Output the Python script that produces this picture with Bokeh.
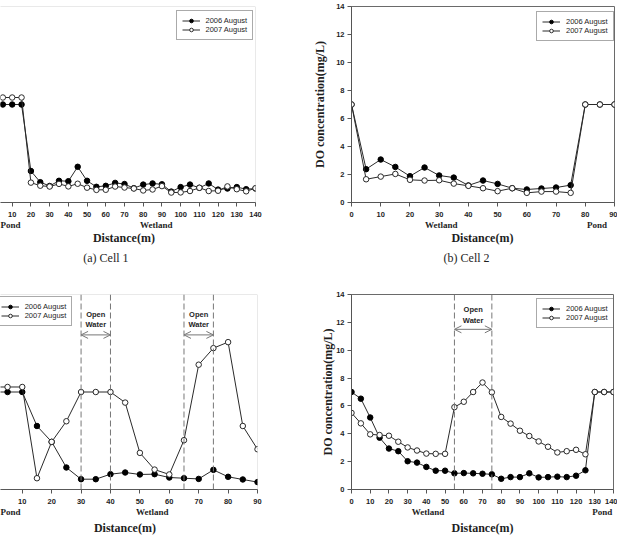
from bokeh.core.properties import value
from bokeh.embed import file_html
from bokeh.layouts import column, row
from bokeh.models import (Arrow, BoxAnnotation, FixedTicker, Legend, LegendItem,
                          LinearAxis, OpenHead, Range1d, Span)
from bokeh.plotting import figure
from bokeh.resources import INLINE

# Sampling stations along each cell (m)
dist_cell1 = list(range(0, 145, 5))
dist_cell2 = list(range(0, 95, 5))
dist_cell3 = list(range(0, 95, 5))
dist_cell4 = list(range(0, 145, 5))

# Dissolved oxygen (mg/L), August surveys
cell1_2006 = [7.0, 7.0, 7.0, 7.0, 2.25, 1.45, 1.18, 1.55, 1.52, 2.55, 1.55, 1.12, 1.19, 1.4, 1.32,
              1.02, 1.28, 1.36, 1.3, 0.78, 1.1, 1.28, 1.05, 1.36, 0.92, 1.0, 1.1, 0.95, 1.0]
cell1_2007 = [7.5, 7.5, 7.5, 7.5, 1.42, 1.2, 1.14, 1.33, 1.15, 1.34, 1.06, 0.9, 0.91, 1.14, 1.07,
              1.0, 0.86, 0.93, 1.17, 0.71, 0.72, 0.82, 1.05, 0.82, 0.84, 1.15, 0.95, 0.8, 1.02]
cell2_2006 = [7.0, 2.38, 3.07, 2.54, 1.88, 2.5, 1.93, 1.78, 1.22, 1.57, 1.33, 1.02, 0.93, 1.0, 1.07,
              1.24, 7.0, 7.0, 7.0]
cell2_2007 = [7.0, 1.66, 1.85, 2.04, 1.62, 1.57, 1.59, 1.35, 1.19, 1.02, 0.81, 1.02, 0.69, 0.78, 0.78,
              0.69, 7.0, 7.0, 7.0]
cell3_2006 = [7.0, 7.0, 7.0, 4.56, 3.42, 1.58, 0.74, 0.74, 1.1, 1.22, 1.08, 1.1, 0.86, 0.81, 0.76,
              1.41, 0.91, 0.72, 0.53]
cell3_2007 = [7.36, 7.36, 7.36, 0.81, 3.42, 4.9, 7.0, 7.0, 7.0, 6.24, 2.63, 1.43, 1.08, 3.54, 8.96,
              10.15, 10.58, 4.56, 2.89]
cell4_2006 = [7.0, 6.52, 5.17, 3.72, 2.94, 2.75, 2.03, 1.93, 1.62, 1.35, 1.35, 1.16, 1.18, 1.16, 1.13,
              1.09, 0.77, 0.89, 0.89, 1.16, 0.87, 0.89, 0.92, 0.89, 0.99, 1.38, 7.0, 7.0, 7.0]
cell4_2007 = [5.5, 4.75, 3.96, 3.91, 3.86, 3.43, 3.02, 2.8, 2.58, 2.56, 2.56, 5.91, 6.3, 7.0, 7.68,
              6.98, 5.21, 4.73, 4.22, 3.84, 3.45, 3.07, 2.66, 2.75, 2.85, 2.53, 7.0, 7.0, 7.0]

series_labels = ["2006 August", "2007 August"]
ticks_140 = list(range(0, 150, 10))
ticks_90 = list(range(0, 100, 10))
do_ticks = list(range(0, 16, 2))
open_water_cell3 = [(30, 40), (65, 75)]
open_water_cell4 = [(55, 75)]

AXIS = "#555555"
FRAME = "#6a6a6a"
TEXT = "#1e1e1e"
LINE = "#2a2a2a"
DASH = "#777777"
SANS = "Liberation Sans"
SERIF = "Liberation Serif"


def base_figure(width, height, borders, x_range, with_y_axis):
    left, right, top, bottom = borders
    p = figure(width=width, height=height, output_backend="svg", toolbar_location=None,
               x_range=Range1d(*x_range), y_range=Range1d(0, 14),
               y_axis_location="left" if with_y_axis else None,
               min_border_left=left, min_border_right=right,
               min_border_top=top, min_border_bottom=bottom)
    p.grid.visible = False
    p.background_fill_color = "white"
    p.border_fill_color = "white"
    return p


def style_ticks(ax, ticks, standoff=5):
    ax.ticker = FixedTicker(ticks=ticks, minor_ticks=[])
    ax.axis_line_color = AXIS
    ax.major_tick_line_color = AXIS
    ax.minor_tick_line_color = None
    ax.major_tick_in = 0
    ax.major_tick_out = 4
    ax.major_label_standoff = standoff
    ax.major_label_text_font = SANS
    ax.major_label_text_font_style = "bold"
    ax.major_label_text_font_size = "7.5px"
    ax.major_label_text_color = TEXT


def text_row(p, positions, labels, font, size, style, standoff):
    ax = LinearAxis(ticker=FixedTicker(ticks=positions, minor_ticks=[]),
                    major_label_overrides=dict(zip(positions, labels)),
                    axis_line_color=None, major_tick_line_color=None,
                    minor_tick_line_color=None, major_tick_in=0, major_tick_out=0,
                    major_label_standoff=standoff, major_label_text_font=font,
                    major_label_text_font_size=size, major_label_text_font_style=style,
                    major_label_text_color=TEXT)
    p.add_layout(ax, "below")


def draw_series(p, dist, y06, y07):
    l06 = p.line(dist, y06, line_color=LINE, line_width=1)
    m06 = p.scatter(dist, y06, marker="circle", size=5.5, fill_color="black",
                    line_color="black", line_width=1)
    l07 = p.line(dist, y07, line_color=LINE, line_width=1)
    m07 = p.scatter(dist, y07, marker="circle", size=5.5, fill_color="white",
                    line_color=LINE, line_width=1)
    return [(l06, m06), (l07, m07)]


def add_legend(p, pairs, loc):
    items = [LegendItem(label=lab, renderers=list(pair))
             for lab, pair in zip(series_labels, pairs)]
    lg = Legend(items=items, location=loc, margin=0, padding=5, spacing=0,
                glyph_width=18, glyph_height=9, label_height=9, label_standoff=6,
                label_text_font=SANS, label_text_font_size="7.5px",
                label_text_color=TEXT, border_line_color=AXIS, border_line_width=1,
                background_fill_color="white", background_fill_alpha=1)
    p.add_layout(lg)


def add_open_water(p, spans, arrow_y, open_y, water_y):
    for a, b in spans:
        for xx in (a, b):
            p.add_layout(Span(location=xx, dimension="height", line_color=DASH,
                              line_dash="6 3", line_width=1))
        p.add_layout(Arrow(x_start=a, x_end=b, y_start=arrow_y, y_end=arrow_y,
                           start=OpenHead(size=7, line_color=DASH, line_width=1),
                           end=OpenHead(size=7, line_color=DASH, line_width=1),
                           line_color=DASH, line_width=1))
        mid = (a + b) / 2
        p.text(x=[mid, mid], y=[open_y, water_y], text=["Open", "Water"],
               text_font=value(SANS), text_font_style="bold", text_font_size="7.5px",
               text_color=TEXT, text_align="center", text_baseline="middle")


def frame_box(p, x_end):
    # top and right edges of the frame; the left edge sits off canvas
    p.outline_line_color = None
    p.add_layout(BoxAnnotation(left=-30, right=x_end, bottom=0, top=14,
                               fill_alpha=0, line_color=FRAME, line_width=1))


def y_axis(p, standoff):
    ax = p.yaxis[0]
    style_ticks(ax, do_ticks, 3)
    ax.axis_label = "DO concentration(mg/L)"
    ax.axis_label_text_font = SERIF
    ax.axis_label_text_font_style = "bold"
    ax.axis_label_text_font_size = "12px"
    ax.axis_label_text_color = TEXT
    ax.axis_label_standoff = standoff


# (a) Cell 1
p1 = base_figure(300, 270, (0, 45, 6, 68), (3.75, 140), False)
frame_box(p1, 140)
style_ticks(p1.xaxis[0], ticks_140)
pairs = draw_series(p1, dist_cell1, cell1_2006, cell1_2007)
add_legend(p1, pairs, (175.5, 161.7))
text_row(p1, [8, 87], ["Pond", "Wetland"], SERIF, "9px", "bold", 0)
text_row(p1, [69.7], ["Distance(m)"], SERIF, "12px", "bold", -2)
text_row(p1, [61.7], ["(a)  Cell  1"], SERIF, "12px", "normal", 3)

# (b) Cell 2
p2 = base_figure(317, 270, (51, 3, 6, 68), (0, 90), True)
p2.outline_line_color = FRAME
style_ticks(p2.xaxis[0], ticks_90)
y_axis(p2, 6)
pairs = draw_series(p2, dist_cell2, cell2_2006, cell2_2007)
add_legend(p2, pairs, (185, 161.3))
text_row(p2, [30.7, 84], ["Wetland", "Pond"], SERIF, "9px", "bold", 0)
text_row(p2, [44.8], ["Distance(m)"], SERIF, "12px", "bold", -2)
text_row(p2, [40.4], ["(b)  Cell  2"], SERIF, "12px", "normal", 3)

# Cell 3
p3 = base_figure(300, 269, (0, 43, 24, 50), (2.6, 90), False)
frame_box(p3, 90)
style_ticks(p3.xaxis[0], ticks_90)
add_open_water(p3, open_water_cell3, 11.1, 12.55, 11.85)
pairs = draw_series(p3, dist_cell3, cell3_2006, cell3_2007)
add_legend(p3, pairs, (-5.3, 162.7))
text_row(p3, [5.3, 54.25], ["Pond", "Wetland"], SERIF, "9px", "bold", 0)
text_row(p3, [44.9], ["Distance(m)"], SERIF, "12px", "bold", 1)

# Cell 4
p4 = base_figure(317, 269, (51, 4, 24, 50), (0, 140), True)
p4.outline_line_color = FRAME
style_ticks(p4.xaxis[0], ticks_140)
y_axis(p4, -2)
add_open_water(p4, open_water_cell4, 11.5, 12.9, 12.15)
pairs = draw_series(p4, dist_cell4, cell4_2006, cell4_2007)
add_legend(p4, pairs, (185, 161))
text_row(p4, [40.9, 134], ["Wetland", "Pond"], SERIF, "9px", "bold", 0)
text_row(p4, [70], ["Distance(m)"], SERIF, "12px", "bold", 1)

layout = column(row(p1, p2), row(p3, p4))
open("out.html", "w").write(file_html(layout, INLINE))
